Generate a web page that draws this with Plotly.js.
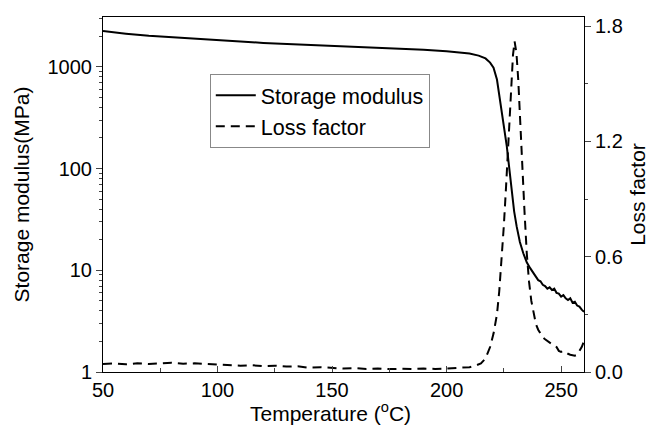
<!DOCTYPE html>
<html>
<head>
<meta charset="utf-8">
<script src="https://cdn.plot.ly/plotly-3.0.1.min.js"></script>
<style>html,body{margin:0;padding:0;background:#fff;}#chart{width:654px;height:433px;}</style>
</head>
<body>
<div id="chart"></div>
<script>
// Storage modulus (MPa) vs temperature (°C)
const smTemp = [50,55,60,70,80,90,100,110,120,130,140,150,160,170,180,190,200,205,210,214,217,219,220.5,222,223.5,225,226.3,227.5,228.5,229.5,230.6,232,233.5,235,236.5,238,239,240,241,242,243,244,245,246,247,248,249,250,251,252,253,254,255,256,257,258,259,260];
const smValue = [2250,2180,2120,2020,1950,1880,1840,1770,1720,1680,1650,1620,1580,1550,1510,1470,1420,1390,1350,1290,1210,1100,980,750,450,270,165,95,58,38,27,19,14.7,12,10.5,9.4,8.8,8.0,7.8,7.2,7.0,6.6,6.8,6.4,6.6,6.0,5.9,5.5,5.7,5.3,5.1,5.3,4.8,4.9,4.5,4.4,4.1,3.9];

// Loss factor vs temperature (°C)
const lfTemp = [50,55,60,65,70,75,80,85,90,95,100,105,110,115,120,125,130,135,140,145,150,155,160,165,170,175,180,185,190,195,200,205,210,213,215,217,219,220.5,222,223,224,225,226,227,228,229,229.7,230.5,231.3,232,233,234,235,236,237,238,239,240,241,242,243,244,245,246,247,248,249,250,251,252,253,254,255,256,257,258,259,260];
const lfValue = [0.042,0.045,0.04,0.045,0.042,0.045,0.048,0.043,0.045,0.042,0.04,0.037,0.033,0.035,0.03,0.033,0.028,0.03,0.022,0.025,0.02,0.018,0.02,0.016,0.018,0.015,0.017,0.015,0.018,0.016,0.018,0.02,0.025,0.035,0.045,0.07,0.13,0.2,0.3,0.42,0.58,0.76,0.97,1.2,1.45,1.65,1.72,1.66,1.52,1.33,1.08,0.84,0.62,0.47,0.37,0.3,0.25,0.22,0.2,0.18,0.17,0.16,0.15,0.145,0.14,0.13,0.11,0.105,0.11,0.1,0.095,0.09,0.088,0.085,0.09,0.11,0.13,0.16];

const seriesNames = ['Storage modulus', 'Loss factor'];
const xTitle = 'Temperature (<sup>o</sup>C)';
const y1Title = 'Storage modulus(MPa)';
const y2Title = 'Loss factor';

const FONT = 'Liberation Sans, Arial, sans-serif';
const FS = 20;
const TFS = 21;

const traces = [
  {x: smTemp, y: smValue, name: seriesNames[0], type: 'scatter', mode: 'lines',
   line: {color: '#000', width: 2}, yaxis: 'y'},
  {x: lfTemp, y: lfValue, name: seriesNames[1], type: 'scatter', mode: 'lines',
   line: {color: '#000', width: 2, dash: '9px,6px'}, yaxis: 'y2'}
];

const layout = {
  width: 654, height: 433,
  margin: {l: 103, r: 70, t: 17, b: 61},
  paper_bgcolor: '#fff', plot_bgcolor: '#fff',
  font: {family: FONT, size: FS, color: '#000'},
  showlegend: true,
  legend: {x: 0.222, y: 0.84, xanchor: 'left', yanchor: 'top',
    bordercolor: '#888', borderwidth: 1, bgcolor: '#fff',
    font: {family: FONT, size: 21.5}, tracegroupgap: 0, itemwidth: 40},
  annotations: [{
    text: xTitle, xref: 'paper', yref: 'paper', x: 0.473, y: -0.113,
    xanchor: 'center', yanchor: 'middle', showarrow: false,
    font: {family: FONT, size: TFS}
  }],
  xaxis: {
    range: [50, 260], tickvals: [50,100,150,200,250], ticks: 'inside', ticklen: 6,
    showline: true, linecolor: '#000', linewidth: 1, mirror: true, showgrid: false, zeroline: false,
    minor: {dtick: 25, tick0: 50, ticks: 'inside', ticklen: 4, showgrid: false},
    tickfont: {family: FONT, size: FS}
  },
  yaxis: {
    type: 'log', range: [0, 3.49], tickvals: [1,10,100,1000], ticktext: ['1','10','100','1000'],
    ticks: 'outside', ticklen: 6,
    showline: true, linecolor: '#000', linewidth: 1, mirror: true, showgrid: false, zeroline: false,
    minor: {tickvals: [2,3,4,5,6,7,8,9,20,30,40,50,60,70,80,90,200,300,400,500,600,700,800,900,2000,3000], ticks: 'outside', ticklen: 3, showgrid: false},
    title: {text: y1Title, font: {family: FONT, size: TFS}, standoff: 12},
    tickfont: {family: FONT, size: FS}
  },
  yaxis2: {
    overlaying: 'y', side: 'right', range: [0, 1.847], tickvals: [0,0.6,1.2,1.8],
    ticktext: ['0.0','0.6','1.2','1.8'], ticks: 'outside', ticklen: 6,
    showline: true, linecolor: '#000', linewidth: 1, showgrid: false, zeroline: false,
    minor: {tickvals: [0.3,0.9,1.5], ticks: 'outside', ticklen: 3, showgrid: false},
    title: {text: y2Title, font: {family: FONT, size: TFS}, standoff: 8},
    tickfont: {family: FONT, size: FS}
  }
};

Plotly.newPlot('chart', traces, layout, {staticPlot: true, displayModeBar: false});
</script>
</body>
</html>
